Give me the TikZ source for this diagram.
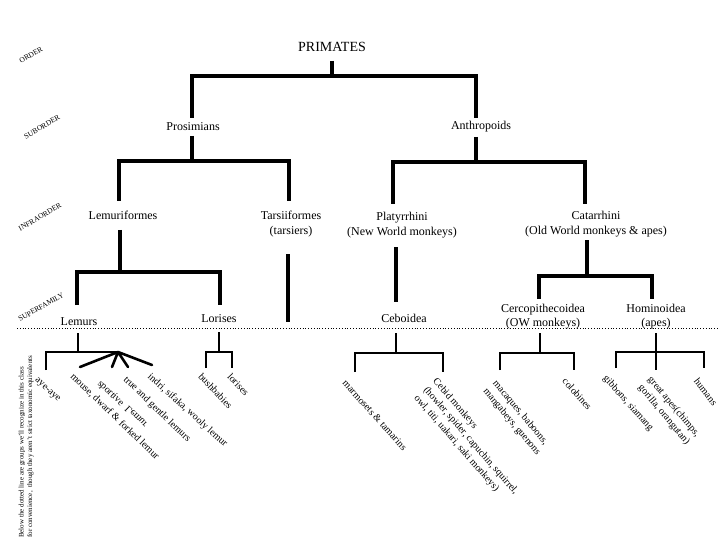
\documentclass[tikz,border=0pt]{standalone}
\usepackage{fontspec}
\setmainfont{Liberation Serif}
\tikzset{
  big/.style={font=\fontsize{12}{14}\selectfont, inner sep=0pt, anchor=base},
  lvl/.style={font=\fontsize{7.5}{9}\selectfont, rotate=30, inner sep=0pt},
  leaf/.style={font=\fontsize{10}{12.5}\selectfont, inner sep=0pt, anchor=north west, align=left},
  note/.style={font=\fontsize{7}{8}\selectfont, inner sep=0pt, rotate=90, anchor=base west},
  thickln/.style={line width=4pt},
  thinln/.style={line width=1.8pt},
  fanln/.style={line width=2.6pt},
  dotln/.style={line width=0.8pt, dash pattern=on 0.8pt off 2pt}
}
\begin{document}
\begin{tikzpicture}[x=1pt,y=-1pt]
\useasboundingbox (0,0) rectangle (720,540);
\fill[white] (0,0) rectangle (720,540);

% level labels
\node[lvl] (lo) at (31,55) {ORDER};
\node[lvl] (ls) at (42,127) {SUBORDER};
\node[lvl] (li) at (40,217) {INFRAORDER};
\node[lvl] (lf) at (41,307) {SUPERFAMILY};

% taxa
\node[big, font=\fontsize{14}{16}\selectfont] (prim) at (332,52) {PRIMATES};
\node[big] (pros) at (193,131) {Prosimians};
\node[big] (anth) at (481,130) {Anthropoids};
\node[big] (lemf) at (123,219) {Lemuriformes};
\node[big] (tarf) at (291,220) {Tarsiiformes};
\node[big] (tarf2) at (291,235) {(tarsiers)};
\node[big] (plat) at (402,221) {Platyrrhini};
\node[big] (plat2) at (402,236) {(New World monkeys)};
\node[big] (cat) at (596,220) {Catarrhini};
\node[big] (cat2) at (596,234) {(Old World monkeys \& apes)};
\node[big] (lem) at (79,325) {Lemurs};
\node[big] (lor) at (219,322) {Lorises};
\node[big] (ceb) at (404,322) {Ceboidea};
\node[big] (cer) at (543,312) {Cercopithecoidea};
\node[big] (cer2) at (543,326) {(OW monkeys)};
\node[big] (hom) at (656,312) {Hominoidea};
\node[big] (hom2) at (656,326) {(apes)};

% junction coordinates
\coordinate (c0) at (332,61);   \coordinate (c1) at (332,76);
\coordinate (p0) at (192,118);  \coordinate (a0) at (476,118);
\coordinate (p1) at (192,136);  \coordinate (p2) at (192,161);
\coordinate (lf0) at (119,201); \coordinate (tf0) at (289,201);
\coordinate (a1) at (476,137);  \coordinate (a2) at (476,162);
\coordinate (pl0) at (393,204); \coordinate (ca0) at (585,204);
\coordinate (lf1) at (120,230); \coordinate (lf2) at (120,272);
\coordinate (le0) at (77,305);  \coordinate (lo0) at (220,305);
\coordinate (tf1) at (288,254); \coordinate (tf2) at (288,322);
\coordinate (pl1) at (396,247); \coordinate (pl2) at (396,302);
\coordinate (ca1) at (587,240); \coordinate (ca2) at (587,276);
\coordinate (ce0) at (539,299); \coordinate (ho0) at (652,299);

% thick tree
\draw[thickln] (c0) -- (c1);
\draw[thickln] (p0) |- (c1) -| (a0);
\draw[thickln] (p1) -- (p2);
\draw[thickln] (lf0) |- (p2) -| (tf0);
\draw[thickln] (a1) -- (a2);
\draw[thickln] (pl0) |- (a2) -| (ca0);
\draw[thickln] (lf1) -- (lf2);
\draw[thickln] (le0) |- (lf2) -| (lo0);
\draw[thickln] (tf1) -- (tf2);
\draw[thickln] (pl1) -- (pl2);
\draw[thickln] (ca1) -- (ca2);
\draw[thickln] (ce0) |- (ca2) -| (ho0);

% dotted line
\coordinate (d0) at (17,328); \coordinate (d1) at (720,328);
\draw[dotln] (d0) -- (d1);

% lower thin trees
\coordinate (le1) at (78,333); \coordinate (le2) at (78,352);
\coordinate (ay) at (46,370); \coordinate (fan) at (118,352);
\coordinate (fm) at (80,367); \coordinate (fs) at (112,367);
\coordinate (ft) at (128,367); \coordinate (fi) at (152,365);
\draw[thinln] (le1) -- (le2);
\draw[thinln] (ay) |- (fan);
\draw[fanln, line cap=round] (fan) -- (fm) (fan) -- (fs) (fan) -- (ft) (fan) -- (fi);

\coordinate (lr1) at (219,332); \coordinate (lr2) at (219,352);
\coordinate (bb) at (206,368); \coordinate (lx) at (232,368);
\draw[thinln] (lr1) -- (lr2);
\draw[thinln] (bb) |- (lr2) -| (lx);

\coordinate (cb1) at (396,333); \coordinate (cb2) at (396,353);
\coordinate (mm) at (355,372); \coordinate (cm) at (443,372);
\draw[thinln] (cb1) -- (cb2);
\draw[thinln] (mm) |- (cb2) -| (cm);

\coordinate (cr1) at (540,333); \coordinate (cr2) at (540,353);
\coordinate (mc) at (500,370); \coordinate (co) at (574,370);
\draw[thinln] (cr1) -- (cr2);
\draw[thinln] (mc) |- (cr2) -| (co);

\coordinate (hm1) at (656,333); \coordinate (hm2) at (656,352);
\coordinate (ga) at (656,370);
\coordinate (gb) at (616,368); \coordinate (hu) at (704,368);
\draw[thinln] (hm1) -- (ga);
\draw[thinln] (gb) |- (hm2) -| (hu);

% leaf labels
\node[leaf, rotate=-42] (t1) at (38,377) {aye-aye};
\node[leaf, rotate=-44] (t2) at (75,372) {mouse, dwarf \& forked lemur};
\node[leaf, rotate=-44] (t3) at (102,379) {sportive\ \ \raisebox{0.65em}{\scalebox{1}[-1]{Lemur}}};
\node[leaf, rotate=-44] (t4) at (128,375) {true and gentle lemurs};
\node[leaf, rotate=-42] (t5) at (152,372) {indri, sifaka, wooly lemur};
\node[leaf, rotate=-47] (t6) at (203,372) {bushbabies};
\node[leaf, rotate=-47] (t7) at (232,372) {lorises};
\node[leaf, rotate=-48] (t8) at (347,379) {marmosets \& tamarins};
\node[leaf, rotate=-49] (t9) at (438,377) {Cebid monkeys\\(howler, spider, capuchin, squirrel,\\owl, titi, uakari, saki monkeys)};
\node[leaf, rotate=-50] (t10) at (498,379) {macaques, baboons,\\mangabeys, guenons};
\node[leaf, rotate=-48] (t11) at (567,377) {colobines};
\node[leaf, rotate=-48] (t12) at (608,374) {gibbons, siamang};
\node[leaf, rotate=-50] (t13) at (653,375) {great apes(chimps,\\gorilla, orangutan)};
\node[leaf, rotate=-52] (t14) at (699,377) {humans};

% side note
\node[note] (n1) at (23.5,538) {Below the dotted line are groups we'll recognize in this class};
\node[note] (n2) at (32,538) {for convenience,\ \ though they aren't strict taxonomic equivalents};
\end{tikzpicture}
\end{document}
